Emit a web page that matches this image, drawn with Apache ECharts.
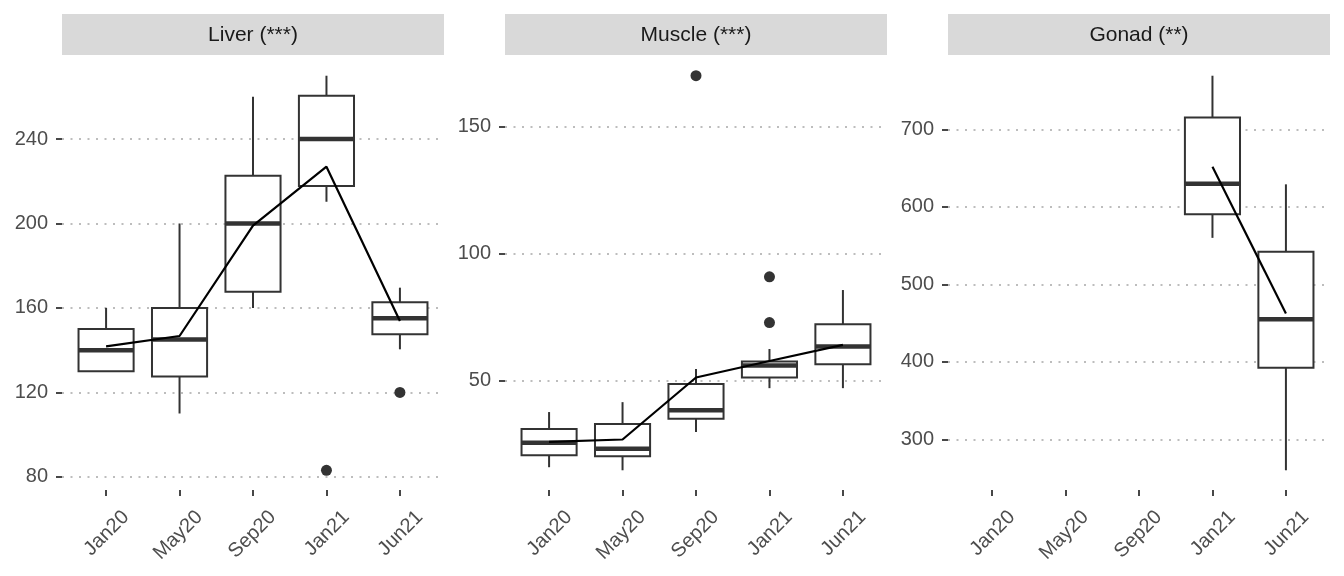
<!DOCTYPE html>
<html><head><meta charset="utf-8">
<script src="https://cdn.jsdelivr.net/npm/echarts@6/dist/echarts.min.js"></script>
<style>html,body{margin:0;padding:0;background:#fff}#c{width:1344px;height:576px}</style>
</head><body><div id="c"></div>
<script>
const categories = ['Jan20', 'May20', 'Sep20', 'Jan21', 'Jun21'];
const panelTitles = ['Liver (***)', 'Muscle (***)', 'Gonad (**)'];
// boxes: [categoryIndex, lowerWhisker, Q1, median, Q3, upperWhisker]
const liverBoxes = [[0,130,130,140,150,160],[1,110,127.5,145,160,200],[2,160,167.7,200,222.6,260],[3,210.3,217.8,240,260.5,270],[4,140.4,147.5,155.1,162.7,169.6]];
const liverOutliers = [[3,83.1],[4,120]];
const liverMeans = [[0,141.8],[1,146.7],[2,199],[3,226.9],[4,153.8]];
const liverTicks = [80,120,160,200,240];

const muscleBoxes = [[0,16.0,20.7,25.6,31.0,37.7],[1,14.8,20.3,23.3,33.0,41.6],[2,29.9,35.1,38.4,48.7,54.6],[3,47.1,51.3,56.0,57.6,62.5],[4,47.1,56.5,63.5,72.2,85.7]];
const muscleOutliers = [[2,170],[3,90.9],[3,72.9]];
const muscleMeans = [[0,26.0],[1,26.9],[2,51.3],[3,57.8],[4,64.1]];
const muscleTicks = [50,100,150];

const gonadBoxes = [[3,560,590.3,629.8,715,769],[4,260.4,392.4,455.2,542,629]];
const gonadOutliers = [];
const gonadMeans = [[3,651.7],[4,462.6]];
const gonadTicks = [300,400,500,600,700];

const catTicks = [0, 1, 2, 3, 4];

const panels = [
  {boxes: liverBoxes, outliers: liverOutliers, means: liverMeans, ticks: liverTicks},
  {boxes: muscleBoxes, outliers: muscleOutliers, means: muscleMeans, ticks: muscleTicks},
  {boxes: gonadBoxes, outliers: gonadOutliers, means: gonadMeans, ticks: gonadTicks}
];

const lefts = [62, 505, 948];
const W = 382, TOP = 56, H = 434;
const INK = '#333333';
const FONT = 'Liberation Sans, Arial, sans-serif';
const LABEL_SHIFT = 0.27; // rotated label anchor offset (hjust/vjust = 1 look)

function yRange(p) {
  let vals = [];
  p.boxes.forEach(b => vals.push(b[1], b[5]));
  p.outliers.forEach(o => vals.push(o[1]));
  const lo = Math.min(...vals), hi = Math.max(...vals), e = (hi - lo) * 0.05;
  return [lo - e, hi + e];
}

function renderBox(params, api) {
  const x = api.value(0);
  const lo = api.value(1), q1 = api.value(2), md = api.value(3), q3 = api.value(4), hi = api.value(5);
  const hw = api.size([1, 0])[0] * 0.375;
  const pLo = api.coord([x, lo]), pQ1 = api.coord([x, q1]), pMd = api.coord([x, md]), pQ3 = api.coord([x, q3]), pHi = api.coord([x, hi]);
  const cx = pQ1[0];
  const ls = {stroke: INK, lineWidth: 2};
  return {type: 'group', children: [
    {type: 'line', shape: {x1: cx, y1: pQ3[1], x2: cx, y2: pHi[1]}, style: ls},
    {type: 'line', shape: {x1: cx, y1: pQ1[1], x2: cx, y2: pLo[1]}, style: ls},
    {type: 'rect', shape: {x: cx - hw, y: pQ3[1], width: 2 * hw, height: pQ1[1] - pQ3[1]}, style: {fill: '#fff', stroke: INK, lineWidth: 2}},
    {type: 'line', shape: {x1: cx - hw, y1: pMd[1], x2: cx + hw, y2: pMd[1]}, style: {stroke: INK, lineWidth: 4.5}}
  ]};
}

const grid = [], xAxis = [], yAxis = [], series = [], graphic = [];
panels.forEach((p, i) => {
  const r = yRange(p);
  grid.push({left: lefts[i], top: TOP, width: W, height: H});
  xAxis.push({
    type: 'value', gridIndex: i, min: -0.6, max: 4.6, position: 'bottom',
    axisLine: {show: false, onZero: false}, splitLine: {show: false},
    axisTick: {show: true, customValues: catTicks, length: 6, lineStyle: {color: INK, width: 1.8}},
    axisLabel: {customValues: catTicks.map(v => v + LABEL_SHIFT), formatter: v => categories[Math.round(v - LABEL_SHIFT)], rotate: 45,
      showMinLabel: true, showMaxLabel: true, hideOverlap: false,
      color: '#4d4d4d', fontSize: 20, fontFamily: FONT, margin: 24}
  });
  yAxis.push({
    type: 'value', gridIndex: i, min: r[0], max: r[1], position: 'left',
    axisLine: {show: false, onZero: false},
    axisTick: {show: true, customValues: p.ticks, length: 6, lineStyle: {color: INK, width: 1.8}},
    axisLabel: {customValues: p.ticks, showMinLabel: true, showMaxLabel: true, color: '#4d4d4d', fontSize: 20, fontFamily: FONT, margin: 14},
    splitLine: {show: true, lineStyle: {color: '#bdbdbd', width: 2, type: [2, 6.5]}}
  });
  series.push({type: 'custom', xAxisIndex: i, yAxisIndex: i, renderItem: renderBox, data: p.boxes,
    encode: {x: 0, y: [1,2,3,4,5]}, z: 2, silent: true});
  series.push({type: 'line', xAxisIndex: i, yAxisIndex: i, data: p.means, symbol: 'none',
    lineStyle: {color: '#000', width: 2.2}, z: 3, silent: true});
  series.push({type: 'scatter', xAxisIndex: i, yAxisIndex: i, data: p.outliers, symbolSize: 11,
    itemStyle: {color: INK, opacity: 1}, z: 4, silent: true});
  graphic.push({type: 'rect', left: lefts[i], top: 14, shape: {width: W, height: 41}, style: {fill: '#d9d9d9'}});
  graphic.push({type: 'text', x: lefts[i] + W / 2, y: 35, style: {text: panelTitles[i], fill: '#1a1a1a',
    font: '21px "Liberation Sans", Arial, sans-serif', textAlign: 'center', textVerticalAlign: 'middle'}});
});

const chart = echarts.init(document.getElementById('c'), null, {renderer: 'canvas'});
chart.setOption({animation: false, backgroundColor: '#fff', grid, xAxis, yAxis, series, graphic});
</script></body></html>
